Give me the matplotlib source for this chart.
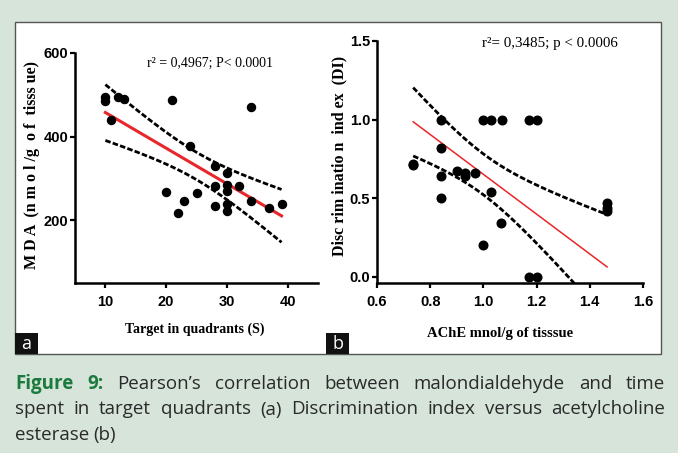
import numpy as np
import matplotlib
matplotlib.use("Agg")
import matplotlib.pyplot as plt
from matplotlib.patches import Rectangle
from matplotlib.ticker import FormatStrFormatter

W, H = 678, 453
BG = "#d6e4da"
GREEN = "#1b7a3d"

# panel a: time in target quadrant vs MDA
time_s = [10, 10, 11, 12, 13, 20, 21, 22, 23, 24, 25, 28, 28, 28,
          30, 30, 30, 30, 30, 32, 34, 34, 37, 39]
mda = [495, 485, 440, 495, 490, 268, 488, 218, 246, 378, 265, 330, 282, 234,
       313, 284, 270, 238, 222, 283, 470, 246, 230, 238]

# panel b: AChE vs discrimination index
ache = [0.736, 0.736, 0.839, 0.839, 0.839, 0.839, 0.90, 0.93, 0.93, 0.97,
        1.00, 1.00, 1.03, 1.03, 1.07, 1.068, 1.17, 1.17, 1.20, 1.20,
        1.465, 1.465, 1.465]
di = [0.72, 0.71, 1.00, 0.82, 0.64, 0.50, 0.67, 0.66, 0.64, 0.66,
      1.00, 0.20, 1.00, 0.54, 1.00, 0.34, 1.00, 0.00, 1.00, 0.00,
      0.47, 0.44, 0.42]
# fit drawn in the published panel b
fit_b = {"intercept": 1.9185, "slope": -1.267, "w0": 0.13, "k": 0.66, "xm": 1.0}

stat_a = "r² = 0,4967; P< 0.0001"
stat_b = "r²= 0,3485; p < 0.0006"

caption = [
    [("Figure", True), ("9:", True), ("Pearson’s", False), ("correlation", False),
     ("between", False), ("malondialdehyde", False), ("and", False), ("time", False)],
    [(w, False) for w in "spent in target quadrants (a) Discrimination index versus acetylcholine".split()],
    [(w, False) for w in "esterase (b)".split()],
]

TICKFONT = ["Liberation Sans", "DejaVu Sans"]
SERIF = ["Liberation Serif", "DejaVu Serif"]
CAPFONT = ["Open Sans", "DejaVu Sans"]


def fit_band(x, y):
    x = np.asarray(x, float)
    y = np.asarray(y, float)
    n = len(x)
    b, a = np.polyfit(x, y, 1)
    resid = y - (a + b * x)
    s = np.sqrt(np.sum(resid ** 2) / (n - 2))
    xm = x.mean()
    sxx = np.sum((x - xm) ** 2)
    t = 2.074  # t(0.975, 22)
    xs = np.linspace(x.min(), x.max(), 200)
    yf = a + b * xs
    w = t * s * np.sqrt(1.0 / n + (xs - xm) ** 2 / sxx)
    return xs, yf, w


def style_axes(ax):
    for side in ["top", "right"]:
        ax.spines[side].set_visible(False)
    for side in ["left", "bottom"]:
        ax.spines[side].set_linewidth(1.8)
    ax.patch.set_alpha(0)
    ax.tick_params(direction="out", length=3.5, width=1.6, labelsize=10.5)
    ax.tick_params(axis="x", pad=5)
    ax.tick_params(axis="y", pad=1.5)
    for lab in ax.get_xticklabels() + ax.get_yticklabels():
        lab.set_family(TICKFONT)
        lab.set_fontweight("bold")


fig = plt.figure(figsize=(W / 100, H / 100), dpi=100)
fig.patch.set_facecolor(BG)
fig.add_artist(Rectangle((15 / W, 1 - 354 / H), (661 - 15) / W, (354 - 22) / H,
                         transform=fig.transFigure, fc="white", ec="#555555",
                         lw=1.0, zorder=-5))

# ---- panel a
ax = fig.add_axes([75 / W, 1 - 283 / H, 243 / W, 230 / H])
xs, yf, w = fit_band(time_s, mda)
ax.plot(xs, yf + w, color="black", lw=2, dashes=(2, 0.8))
ax.plot(xs, yf - w, color="black", lw=2, dashes=(2, 0.8))
ax.plot(xs, yf, color="#e8262b", lw=2.2)
ax.plot(time_s, mda, "o", color="black", ms=5.8)
ax.set_xlim(5, 45)
ax.set_ylim(50, 600)
ax.set_xticks([10, 20, 30, 40])
ax.set_yticks([200, 400, 600])
style_axes(ax)
fig.text(210 / W, 1 - 63 / H, stat_a, ha="center", va="center",
         family=SERIF, fontsize=10)
fig.text(195 / W, 1 - 329 / H, "Target in quadrants (S)", ha="center", va="center",
         family=SERIF, fontweight="bold", fontsize=10)
fig.text(32 / W, 1 - 165 / H, "M D A  (n m o l /g  o f  tisss ue)", rotation=90,
         ha="center", va="center", family=SERIF, fontweight="bold", fontsize=11.5)

# ---- panel b
bx = fig.add_axes([377 / W, 1 - 283 / H, 266 / W, 242 / H])
xb = np.linspace(min(ache), max(ache), 200)
yb = fit_b["intercept"] + fit_b["slope"] * xb
wb = np.sqrt(fit_b["w0"] ** 2 + (fit_b["k"] * (xb - fit_b["xm"])) ** 2)
bx.plot(xb, yb + wb, color="black", lw=2, dashes=(2, 0.8))
bx.plot(xb, yb - wb, color="black", lw=2, dashes=(2, 0.8))
bx.plot(xb, yb, color="#e8262b", lw=1.1)
bx.plot(ache, di, "o", color="black", ms=6.2)
bx.set_xlim(0.6, 1.6)
bx.set_ylim(-0.04, 1.5)
bx.set_xticks([0.6, 0.8, 1.0, 1.2, 1.4, 1.6])
bx.set_yticks([0.0, 0.5, 1.0, 1.5])
bx.xaxis.set_major_formatter(FormatStrFormatter("%.1f"))
bx.yaxis.set_major_formatter(FormatStrFormatter("%.1f"))
style_axes(bx)
fig.text(550 / W, 1 - 43 / H, stat_b, ha="center", va="center",
         family=SERIF, fontsize=10.8)
fig.text(500 / W, 1 - 333 / H, "AChE mnol/g of tisssue", ha="center", va="center",
         family=SERIF, fontweight="bold", fontsize=10.5)
fig.text(339 / W, 1 - 156 / H, "Disc rim inatio n  ind ex  (DI)", rotation=90,
         ha="center", va="center", family=SERIF, fontweight="bold", fontsize=11.5)

# ---- panel letters
for x0, letter in [(15, "a"), (326, "b")]:
    fig.add_artist(Rectangle((x0 / W, 1 - 354 / H), 23 / W, 21 / H,
                             transform=fig.transFigure, fc="#111111", ec="none"))
    fig.text((x0 + 11.5) / W, 1 - 344 / H, letter, color="white", ha="center",
             va="center", fontsize=13, family=CAPFONT)

# ---- caption, justified
renderer = fig.canvas.get_renderer()
left, right = 15, 665
for i, words in enumerate(caption):
    ybase = 1 - (389 + 25.5 * i) / H
    texts = []
    for word, bold in words:
        t = fig.text(0, ybase, word, ha="left", va="baseline", fontsize=13.5,
                     family=CAPFONT,
                     fontweight="bold" if bold else "normal",
                     color=GREEN if bold else "#2a2a2a")
        texts.append(t)
    widths = [t.get_window_extent(renderer).width for t in texts]
    if i < len(caption) - 1:
        gap = (right - left - sum(widths)) / (len(texts) - 1)
    else:
        gap = 4.5
    x = left
    for t, wd in zip(texts, widths):
        t.set_x(x / W)
        x += wd + gap

fig.savefig("out.png", dpi=100, facecolor=BG)
